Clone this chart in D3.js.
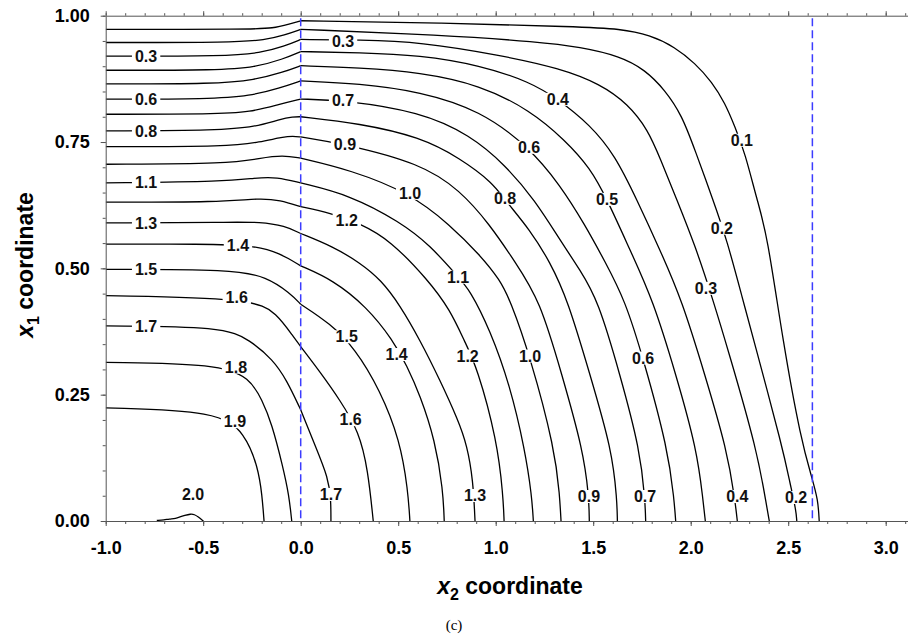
<!DOCTYPE html>
<html>
<head>
<meta charset="utf-8">
<script src="https://cdn.jsdelivr.net/npm/d3@7"></script>
<style>
  body { margin: 0; background: #fff; }
  svg { display: block; font-family: "Liberation Sans", Arial, sans-serif; }
</style>
</head>
<body>
<svg id="chart" width="908" height="635"></svg>
<script>
// contour lines, [x2, x1] points
var c01 = [[-1.0,0.973],[-0.260,0.973],[-0.142,0.975],[-0.055,0.984],[0,0.990],[0.714,0.986],[1.432,0.978],[1.637,0.974],[1.791,0.962],[1.919,0.938],[2.022,0.906],[2.109,0.869],[2.176,0.827],[2.227,0.780],[2.279,0.728],[2.340,0.635],[2.391,0.570],[2.474,0.352],[2.566,0.160],[2.622,0.085],[2.653,0.042],[2.659,0]];
var c02 = [[-1.0,0.947],[-0.347,0.947],[-0.183,0.952],[-0.081,0.962],[0,0.973],[0.714,0.962],[1.227,0.948],[1.432,0.938],[1.637,0.920],[1.766,0.893],[1.868,0.853],[1.955,0.803],[2.022,0.734],[2.115,0.635],[2.186,0.556],[2.268,0.437],[2.319,0.364],[2.474,0.141],[2.509,0.075],[2.540,0.022],[2.544,0]];
var c03 = [[-1.0,0.920],[-0.378,0.920],[-0.209,0.926],[-0.081,0.940],[0,0.953],[0.304,0.952],[0.612,0.948],[1.022,0.922],[1.329,0.896],[1.535,0.865],[1.679,0.825],[1.781,0.774],[1.843,0.718],[1.930,0.635],[2.022,0.546],[2.115,0.437],[2.192,0.338],[2.340,0.141],[2.390,0.028],[2.403,0]];
var c04 = [[-1.0,0.892],[-0.414,0.892],[-0.234,0.898],[-0.091,0.914],[0,0.929],[0.300,0.927],[0.612,0.922],[0.920,0.902],[1.176,0.869],[1.319,0.835],[1.484,0.784],[1.612,0.724],[1.725,0.635],[1.843,0.536],[1.955,0.437],[2.073,0.289],[2.186,0.141],[2.227,0.042],[2.239,0]];
var c05 = [[-1.0,0.865],[-0.440,0.865],[-0.234,0.873],[-0.091,0.888],[0,0.901],[0.300,0.897],[0.612,0.888],[0.920,0.863],[1.176,0.813],[1.355,0.754],[1.484,0.699],[1.571,0.637],[1.689,0.536],[1.807,0.437],[1.925,0.289],[2.032,0.141],[2.063,0.042],[2.075,0]];
var c06 = [[-1.0,0.835],[-0.465,0.835],[-0.260,0.841],[-0.106,0.857],[0,0.871],[0.300,0.866],[0.612,0.850],[0.920,0.813],[1.171,0.740],[1.330,0.665],[1.458,0.586],[1.561,0.513],[1.663,0.437],[1.756,0.323],[1.884,0.141],[1.915,0.042],[1.923,0]];
var c07 = [[-1.0,0.805],[-0.440,0.805],[-0.260,0.809],[-0.106,0.825],[0,0.835],[0.217,0.833],[0.612,0.810],[0.868,0.764],[1.048,0.705],[1.201,0.635],[1.330,0.556],[1.432,0.497],[1.525,0.437],[1.638,0.289],[1.740,0.141],[1.766,0.042],[1.769,0]];
var c08 = [[-1.0,0.772],[-0.414,0.773],[-0.234,0.780],[-0.106,0.795],[-0.039,0.800],[0,0.800],[0.300,0.787],[0.612,0.760],[0.817,0.718],[0.986,0.669],[1.048,0.635],[1.176,0.576],[1.278,0.513],[1.370,0.437],[1.484,0.289],[1.596,0.141],[1.622,0.042],[1.624,0]];
var c09 = [[-1.0,0.741],[-0.363,0.741],[-0.209,0.750],[-0.091,0.760],[-0.039,0.762],[0,0.760],[0.227,0.746],[0.612,0.708],[0.817,0.655],[0.971,0.586],[1.099,0.513],[1.227,0.437],[1.340,0.289],[1.448,0.141],[1.478,0.049],[1.480,0]];
var c10 = [[-1.0,0.706],[-0.363,0.707],[-0.209,0.718],[-0.091,0.724],[0,0.718],[0.253,0.695],[0.560,0.649],[0.766,0.586],[0.920,0.526],[1.022,0.477],[1.074,0.437],[1.176,0.327],[1.304,0.141],[1.328,0.050],[1.335,0]];
var c11 = [[-1.0,0.669],[-0.379,0.672],[-0.234,0.679],[-0.123,0.681],[0,0.669],[0.253,0.645],[0.509,0.592],[0.663,0.546],[0.807,0.483],[0.868,0.457],[0.971,0.378],[1.073,0.269],[1.150,0.141],[1.185,0.050],[1.193,0]];
var c12 = [[-1.0,0.631],[-0.414,0.631],[-0.209,0.639],[-0.106,0.635],[0,0.622],[0.150,0.610],[0.304,0.589],[0.458,0.556],[0.653,0.477],[0.766,0.418],[0.842,0.354],[0.904,0.305],[1.007,0.160],[1.038,0.050],[1.043,0]];
var c13 = [[-1.0,0.590],[-0.363,0.591],[-0.209,0.592],[-0.081,0.584],[0,0.569],[0.166,0.543],[0.304,0.511],[0.412,0.477],[0.509,0.427],[0.612,0.358],[0.714,0.279],[0.807,0.200],[0.853,0.150],[0.884,0.081],[0.894,0]];
var c14 = [[-1.0,0.548],[-0.500,0.548],[-0.245,0.546],[-0.106,0.530],[0,0.505],[0.166,0.477],[0.338,0.424],[0.473,0.358],[0.545,0.307],[0.612,0.249],[0.689,0.160],[0.730,0.061],[0.736,0]];
var c15 = [[-1.0,0.498],[-0.347,0.498],[-0.174,0.483],[-0.055,0.451],[0,0.429],[0.150,0.391],[0.278,0.342],[0.407,0.259],[0.509,0.160],[0.550,0.061],[0.560,0]];
var c16 = [[-1.0,0.446],[-0.245,0.441],[-0.123,0.411],[-0.038,0.365],[0,0.345],[0.099,0.295],[0.202,0.239],[0.299,0.177],[0.345,0.101],[0.372,0]];
var c17 = [[-1.0,0.386],[-0.398,0.385],[-0.260,0.358],[-0.142,0.319],[-0.072,0.279],[0,0.220],[0.073,0.150],[0.142,0.085],[0.155,0.042],[0.155,0]];
var c18 = [[-1.0,0.314],[-0.424,0.311],[-0.260,0.283],[-0.198,0.239],[-0.149,0.194],[-0.091,0.107],[-0.060,0.051],[-0.046,0]];
var c19 = [[-1.0,0.224],[-0.424,0.218],[-0.286,0.174],[-0.219,0.107],[-0.198,0.051],[-0.188,0]];
var c20 = [[-0.738,0.001],[-0.700,0.002],[-0.675,0.004],[-0.640,0.005],[-0.620,0.008],[-0.595,0.011],[-0.565,0.014],[-0.545,0.013],[-0.525,0.008],[-0.505,0.002],[-0.499,0]];

var contours = [c01, c02, c03, c04, c05, c06, c07, c08, c09, c10,
                c11, c12, c13, c14, c15, c16, c17, c18, c19, c20];

// contour labels: text, x2, x1
var labels = [
  ['0.3', -0.793, 0.920], ['0.6', -0.793, 0.835], ['0.8', -0.793, 0.772],
  ['1.1', -0.793, 0.670], ['1.3', -0.793, 0.590], ['1.5', -0.793, 0.498],
  ['1.7', -0.793, 0.386], ['1.4', -0.322, 0.546], ['1.6', -0.328, 0.443],
  ['1.8', -0.332, 0.305], ['1.9', -0.337, 0.197], ['2.0', -0.552, 0.053],
  ['0.3', 0.217, 0.950], ['0.7', 0.217, 0.833], ['0.9', 0.227, 0.746],
  ['1.0', 0.561, 0.649], ['1.2', 0.236, 0.596], ['1.5', 0.236, 0.365],
  ['1.4', 0.492, 0.330], ['1.6', 0.256, 0.201], ['1.7', 0.155, 0.053],
  ['1.3', 0.894, 0.051], ['1.1', 0.807, 0.483], ['1.2', 0.856, 0.327],
  ['1.0', 1.176, 0.327], ['0.8', 1.048, 0.639], ['0.6', 1.171, 0.740],
  ['0.4', 1.319, 0.835], ['0.5', 1.571, 0.637], ['0.6', 1.756, 0.323],
  ['0.9', 1.478, 0.049], ['0.7', 1.766, 0.049], ['0.4', 2.239, 0.049],
  ['0.2', 2.540, 0.047], ['0.1', 2.262, 0.754], ['0.2', 2.160, 0.580],
  ['0.3', 2.078, 0.461]
];

var boundaries = [0, 2.624];
var xMajor = [-1.0, -0.5, 0.0, 0.5, 1.0, 1.5, 2.0, 2.5, 3.0];
var yMajor = [0, 0.25, 0.5, 0.75, 1.0];

var svg = d3.select('#chart');
var x = d3.scaleLinear().domain([-1, 3.2]).range([105.7, 924.7]);
var y = d3.scaleLinear().domain([0, 1]).range([521, 15.7]);

var xMinor = d3.range(-10, 32).map(function(i) { return i / 10; });
var yMinor = d3.range(0, 21).map(function(i) { return i / 20; });

svg.append('clipPath').attr('id', 'plot')
  .append('rect')
  .attr('x', x(-1))
  .attr('y', y(1))
  .attr('width', 908 - x(-1))
  .attr('height', y(0) - y(1) + 1);

var line = d3.line()
  .x(function(d) { return x(d[0]); })
  .y(function(d) { return y(d[1]); })
  .curve(d3.curveBasis);

// the lines have a kink where they cross x2 = 0
var splitAtZero = function(pts) {
  var i = pts.findIndex(function(p) { return p[0] === 0; });
  if (i <= 0 || i === pts.length - 1) return [pts];
  return [pts.slice(0, i + 1), pts.slice(i)];
};

var pieces = [];
contours.forEach(function(c) {
  splitAtZero(c).forEach(function(p) { pieces.push(p); });
});

svg.append('g')
  .attr('clip-path', 'url(#plot)')
  .selectAll('path')
  .data(pieces)
  .enter()
  .append('path')
  .attr('d', line)
  .attr('fill', 'none')
  .attr('stroke', '#000')
  .attr('stroke-width', 1.3);

// axes
var styleAxis = function(g) {
  g.attr('color', '#555')
    .attr('font-size', 18)
    .attr('font-weight', 'bold')
    .attr('font-family', '"Liberation Sans", Arial, sans-serif');
  g.selectAll('text').attr('fill', '#000');
};

svg.append('g')
  .attr('transform', 'translate(0,' + y(0) + ')')
  .call(d3.axisBottom(x).tickValues(xMinor).tickSize(3).tickSizeOuter(0).tickFormat(''))
  .call(styleAxis);
svg.append('g')
  .attr('transform', 'translate(0,' + y(0) + ')')
  .call(d3.axisBottom(x).tickValues(xMajor).tickSize(5).tickSizeOuter(0).tickPadding(15)
    .tickFormat(function(d) { return d.toFixed(1); }))
  .call(styleAxis)
  .select('.domain').remove();

svg.append('g')
  .attr('transform', 'translate(0,' + y(1) + ')')
  .call(d3.axisTop(x).tickValues(xMinor).tickSize(2.5).tickSizeOuter(0).tickFormat(''))
  .call(styleAxis);
svg.append('g')
  .attr('transform', 'translate(0,' + y(1) + ')')
  .call(d3.axisTop(x).tickValues(xMajor).tickSize(4.5).tickSizeOuter(0).tickFormat(''))
  .call(styleAxis)
  .select('.domain').remove();

svg.append('g')
  .attr('transform', 'translate(' + x(-1) + ',0)')
  .call(d3.axisLeft(y).tickValues(yMinor).tickSize(3).tickSizeOuter(0).tickFormat(''))
  .call(styleAxis);
svg.append('g')
  .attr('transform', 'translate(' + x(-1) + ',0)')
  .call(d3.axisLeft(y).tickValues(yMajor).tickSize(5).tickSizeOuter(0).tickPadding(11)
    .tickFormat(function(d) { return d.toFixed(2); }))
  .call(styleAxis)
  .select('.domain').remove();

// blue dashed boundaries
svg.selectAll('.bound')
  .data(boundaries)
  .enter()
  .append('line')
  .attr('class', 'bound')
  .attr('x1', function(d) { return x(d); })
  .attr('x2', function(d) { return x(d); })
  .attr('y1', y(0.995))
  .attr('y2', y(0))
  .attr('stroke', '#3c3cff')
  .attr('stroke-width', 1.5)
  .attr('stroke-dasharray', '8,4');

// contour labels with a white gap behind them
var lg = svg.append('g');
labels.forEach(function(l) {
  var g = lg.append('g');
  var t = g.append('text')
    .attr('x', x(l[1]))
    .attr('y', y(l[2]))
    .attr('dy', '0.36em')
    .attr('text-anchor', 'middle')
    .attr('font-size', 16)
    .attr('font-weight', 'bold')
    .attr('fill', '#111')
    .text(l[0]);
  var b = t.node().getBBox();
  g.insert('rect', 'text')
    .attr('x', b.x - 3)
    .attr('y', b.y + 2)
    .attr('width', b.width + 6)
    .attr('height', b.height - 4)
    .attr('fill', '#fff');
});

// axis titles
var yt = svg.append('text')
  .attr('transform', 'translate(33,265) rotate(-90)')
  .attr('text-anchor', 'middle')
  .attr('font-size', 23)
  .attr('font-weight', 'bold');
yt.append('tspan').attr('font-style', 'italic').text('x');
yt.append('tspan').attr('font-size', 16).attr('dy', 6).text('1');
yt.append('tspan').attr('dy', -6).text(' coordinate');

var xt = svg.append('text')
  .attr('x', 510)
  .attr('y', 594)
  .attr('text-anchor', 'middle')
  .attr('font-size', 23)
  .attr('font-weight', 'bold');
xt.append('tspan').attr('font-style', 'italic').text('x');
xt.append('tspan').attr('font-size', 16).attr('dy', 6).text('2');
xt.append('tspan').attr('dy', -6).text(' coordinate');

svg.append('text')
  .attr('x', 454)
  .attr('y', 630)
  .attr('text-anchor', 'middle')
  .attr('font-family', '"Liberation Serif", "Times New Roman", serif')
  .attr('font-size', 15)
  .text('(c)');
</script>
</body>
</html>
